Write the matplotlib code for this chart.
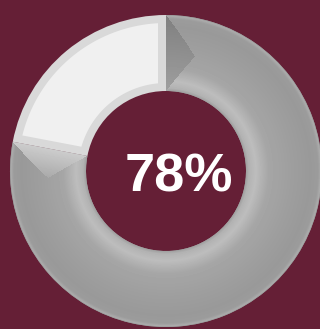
import numpy as np
import matplotlib
matplotlib.use("Agg")
import matplotlib.pyplot as plt
from matplotlib.patches import Polygon

# porcentaje completado y resto
valores = [78, 22]
etiqueta = "78%"

fondo = "#651f36"
color_resto = "#f0f0f0"
borde_resto = "#d9d9d9"

W, H = 320, 329
cx, cy = 166, H - 171
r_ext, grosor = 156, 76
r_int = r_ext - grosor
borde = 8

fig = plt.figure(figsize=(W / 100, H / 100), dpi=100)
fig.patch.set_facecolor(fondo)
ax = fig.add_axes([0, 0, 1, 1])
ax.set_facecolor(fondo)

wedges, _ = ax.pie(
    valores,
    startangle=90,
    counterclock=False,
    radius=r_ext,
    center=(cx, cy),
    colors=["#a0a0a0", borde_resto],
    wedgeprops=dict(width=grosor, linewidth=0),
)

# relleno claro del segmento restante, dejando un borde interior uniforme
resto = wedges[1]
a1, a2 = np.radians(resto.theta1), np.radians(resto.theta2)
rr_ext, rr_int = r_ext - borde, r_int + borde
def arco(rho, desde, hasta):
    off = np.arcsin(borde / rho)
    ang = np.linspace(desde + off * np.sign(hasta - desde),
                      hasta - off * np.sign(hasta - desde), 60)
    return np.column_stack([cx + rho * np.cos(ang), cy + rho * np.sin(ang)])
pts = np.vstack([arco(rr_ext, a1, a2), arco(rr_int, a2, a1)])
ax.add_patch(Polygon(pts, closed=True, facecolor=color_resto,
                     edgecolor="none", zorder=resto.get_zorder() + 0.1))

# sombreado del anillo gris (relieve)
xs = np.arange(W) + 0.5
ys = H - (np.arange(H) + 0.5)
X, Y = np.meshgrid(xs, ys)
dx, dy = X - cx, Y - cy
r = np.hypot(dx, dy)
theta = np.degrees(np.arctan2(dx, dy)) % 360
fin = 360 * valores[0] / sum(valores)

t = np.clip((r - r_int) / grosor, 0, 1)
base = np.interp(
    t,
    [0.0, 0.04, 0.13, 0.3, 0.6, 0.85, 0.95, 0.985, 1.0],
    [0.62, 0.70, 0.74, 0.65, 0.62, 0.60, 0.61, 0.67, 0.60],
)

d_in = r - r_int
d_out = r_ext - r
d_lado = np.minimum(d_in, d_out)
d_ini = r * np.radians(theta)
d_fin = r * np.radians(np.clip(fin - theta, 0, None))

img = base.copy()
cara_ini = d_ini * 1.3 < d_lado
img[cara_ini] = (0.50 + 0.12 * (d_out / grosor))[cara_ini]
cara_fin = d_fin * 1.3 < d_lado
img[cara_fin] = (0.66 + 0.14 * (1 - d_fin / 30).clip(0, 1))[cara_fin]

sombra = ax.imshow(
    img, cmap="gray", vmin=0, vmax=1,
    extent=(0, W, 0, H), origin="upper", interpolation="bilinear", zorder=2,
)
sombra.set_clip_path(wedges[0])

ax.text(
    179, H - 192, etiqueta,
    ha="center", va="baseline",
    color="white", fontsize=39, fontweight="bold",
    family="Liberation Sans", zorder=3,
)

ax.set_xlim(0, W)
ax.set_ylim(0, H)
ax.set_aspect("equal")
ax.axis("off")

fig.savefig("out.png", dpi=100, facecolor=fondo)
